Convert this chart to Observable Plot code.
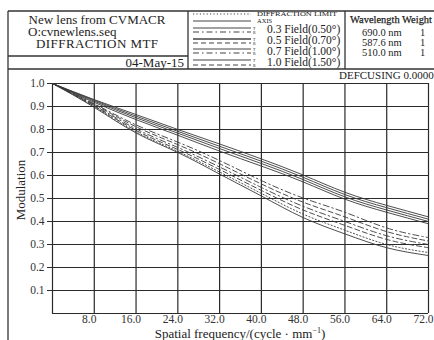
<!DOCTYPE html>
<html>
<head>
<meta charset="utf-8">
<script src="https://cdn.jsdelivr.net/npm/d3@7"></script>
<script src="https://cdn.jsdelivr.net/npm/@observablehq/plot@0.6"></script>
<style>
  html, body { margin: 0; padding: 0; background: #fff; }
  #chart { width: 434px; height: 340px; overflow: hidden; }
  #chart svg, #chart svg text, #chart svg tspan { font-family: "Liberation Serif", "Times New Roman", "DejaVu Serif", serif !important; }
</style>
</head>
<body>
<div id="chart"></div>
<script>
// ---- data ----
const freq = [0, 8, 16, 24, 32, 40, 48, 56, 64, 72];
const xTicks = [8, 16, 24, 32, 40, 48, 56, 64, 72];
const yTicks = [0.1, 0.2, 0.3, 0.4, 0.5, 0.6, 0.7, 0.8, 0.9, 1.0];

const seriesNames = ["AXIS", "0.3 T", "0.5 T", "0.7 T", "0.3 R", "0.5 R", "0.7 R", "1.0 R", "DIFFRACTION LIMIT", "1.0 T"];
const axisMTF   = [1.0, 0.930, 0.865, 0.800, 0.737, 0.672, 0.602, 0.527, 0.470, 0.420];
const f03T      = [1.0, 0.927, 0.858, 0.792, 0.727, 0.662, 0.592, 0.517, 0.460, 0.410];
const f05T      = [1.0, 0.923, 0.851, 0.784, 0.717, 0.652, 0.582, 0.507, 0.450, 0.400];
const f07T      = [1.0, 0.918, 0.843, 0.775, 0.706, 0.641, 0.572, 0.497, 0.440, 0.390];
const f03R      = [1.0, 0.912, 0.820, 0.745, 0.665, 0.578, 0.502, 0.440, 0.372, 0.330];
const f05R      = [1.0, 0.909, 0.812, 0.734, 0.651, 0.563, 0.484, 0.420, 0.356, 0.315];
const f07R      = [1.0, 0.905, 0.803, 0.722, 0.637, 0.548, 0.466, 0.400, 0.338, 0.300];
const f10R      = [1.0, 0.902, 0.796, 0.713, 0.626, 0.535, 0.450, 0.383, 0.322, 0.286];
const diffLimit = [1.0, 0.899, 0.790, 0.705, 0.615, 0.522, 0.432, 0.362, 0.300, 0.265];
const f10T      = [1.0, 0.896, 0.785, 0.700, 0.606, 0.511, 0.417, 0.346, 0.286, 0.252];
const seriesValues = [axisMTF, f03T, f05T, f07T, f03R, f05R, f07R, f10R, diffLimit, f10T];

const headerLines = ["New lens from CVMACR", "O:cvnewlens.seq", "DIFFRACTION MTF"];
const dateLabel = "04-May-15";
const fieldLabels = ["0.3 Field(0.50°)", "0.5 Field(0.70°)", "0.7 Field(1.00°)", "1.0 Field(1.50°)"];
const wavelengths = ["690.0 nm", "587.6 nm", "510.0 nm"];
const weights = ["1", "1", "1"];
const defocusLabel = "DEFCUSING 0.00000";

// ---- styles (by series) ----
const dashFor = {
  "AXIS": null, "0.3 T": null, "0.5 T": null, "0.7 T": null, "1.0 T": null,
  "0.3 R": "6,3,1.5,3", "0.5 R": "5,3", "0.7 R": "6,3,1.5,3", "1.0 R": "5,3",
  "DIFFRACTION LIMIT": "1.2,2.2"
};

// tidy table
const rows = [];
seriesNames.forEach((name, i) => {
  freq.forEach((f, j) => rows.push({series: name, freq: f, mtf: seriesValues[i][j]}));
});

const ink = "#2a2a2a";

const lineMarks = seriesNames.map(name =>
  Plot.line(rows.filter(d => d.series === name), {
    x: "freq", y: "mtf", curve: "natural",
    stroke: "#3a3a3a", strokeWidth: 0.9,
    strokeDasharray: dashFor[name] || undefined
  })
);

const chart = Plot.plot({
  width: 434,
  height: 340,
  marginLeft: 52,
  marginRight: 6,
  marginTop: 83,
  marginBottom: 27,
  style: {fontSize: "11.5px", background: "#fff", color: ink},
  x: {domain: [0, 72]},
  y: {domain: [0, 1]},
  marks: [
    Plot.gridX(xTicks, {stroke: ink, strokeOpacity: 1, strokeWidth: 1.2}),
    Plot.gridY(yTicks, {stroke: ink, strokeOpacity: 1, strokeWidth: 1.2}),
    Plot.ruleX([0], {stroke: ink, strokeWidth: 1.2}),
    Plot.ruleY([0], {stroke: ink, strokeWidth: 1.2}),
    Plot.axisX({ticks: xTicks, tickFormat: d => d.toFixed(1), tickSize: 0, tickPadding: 1, dx: -5, label: null, fill: "#333"}),
    Plot.axisY({ticks: yTicks, tickFormat: d => d.toFixed(1), tickSize: 5, tickPadding: 3, label: null, stroke: ink, fill: "#333"}),
    ...lineMarks
  ]
});

document.getElementById("chart").appendChild(chart);

// ---- header, frame and titles ----
const svg = d3.select(chart);
const g = svg.append("g").attr("fill", "#222").attr("text-anchor", "start");
const frame = (x1, y1, x2, y2, w = 1.3) =>
  g.append("line").attr("x1", x1).attr("y1", y1).attr("x2", x2).attr("y2", y2)
    .attr("stroke", "#333").attr("stroke-width", w);

// outer frame
frame(8, 11, 434, 11);
frame(8, 69, 434, 69);
frame(8, 11, 8, 340);
frame(188, 11, 188, 69);
frame(345, 11, 345, 69);
frame(8, 56, 188, 56);

// left header box
g.append("text").attr("x", 97).attr("y", 24).attr("text-anchor", "middle").attr("font-size", 13).text(headerLines[0]);
g.append("text").attr("x", 28).attr("y", 36).attr("font-size", 13).text(headerLines[1]);
g.append("text").attr("x", 97).attr("y", 48).attr("text-anchor", "middle").attr("font-size", 13).attr("textLength", 122).attr("lengthAdjust", "spacing").text(headerLines[2]);
g.append("text").attr("x", 184).attr("y", 67).attr("text-anchor", "end").attr("font-size", 13).text(dateLabel);

// legend column
const legendLine = (y, dash, w = 1) => {
  const l = g.append("line").attr("x1", 193).attr("x2", 251).attr("y1", y).attr("y2", y)
    .attr("stroke", "#444").attr("stroke-width", w);
  if (dash) l.attr("stroke-dasharray", dash);
};
legendLine(14, dashFor["DIFFRACTION LIMIT"], 1.1);
legendLine(21, null);
const tRows = [28, 39, 49, 60];
const rRows = [32, 43, 53, 65];
const tNames = ["0.3 T", "0.5 T", "0.7 T", "1.0 T"];
const rNames = ["0.3 R", "0.5 R", "0.7 R", "1.0 R"];
tRows.forEach((y, i) => legendLine(y, dashFor[tNames[i]], i === 1 ? 1.6 : 1));
rRows.forEach((y, i) => legendLine(y, dashFor[rNames[i]], 1.2));
tRows.forEach((y, i) => {
  g.append("text").attr("x", 253).attr("y", y + 1.5).attr("font-size", 4).text("T");
  g.append("text").attr("x", 253).attr("y", rRows[i] + 1.5).attr("font-size", 4).text("R");
});
g.append("text").attr("x", 257).attr("y", 16).attr("font-size", 7).attr("textLength", 80).attr("lengthAdjust", "spacingAndGlyphs").text("DIFFRACTION LIMIT");
g.append("text").attr("x", 257).attr("y", 22.5).attr("font-size", 6.5).text("AXIS");
[29, 40, 51, 62].forEach((y, i) =>
  g.append("text").attr("x", 267).attr("y", y + 4).attr("font-size", 11.5).text(fieldLabels[i])
);

// wavelength column
g.append("text").attr("x", 350).attr("y", 23).attr("font-size", 11).attr("fill", "#222")
  .attr("stroke", "#222").attr("stroke-width", 0.25).attr("textLength", 82).attr("lengthAdjust", "spacingAndGlyphs").text("Wavelength Weight");
[33, 43, 53].forEach((y, i) => {
  g.append("text").attr("x", 362).attr("y", y + 3).attr("font-size", 10.5).text(wavelengths[i]);
  g.append("text").attr("x", 420).attr("y", y + 3).attr("font-size", 10.5).text(weights[i]);
});

// defocus label
g.append("rect").attr("x", 338).attr("y", 70).attr("width", 96).attr("height", 11).attr("fill", "#fff");
g.append("text").attr("x", 339).attr("y", 79).attr("font-size", 11).text(defocusLabel);

// axis titles
const xt = g.append("text").attr("x", 240).attr("y", 338).attr("text-anchor", "middle").attr("font-size", 13);
xt.append("tspan").text("Spatial frequency/(cycle · mm");
xt.append("tspan").attr("dy", -5).attr("font-size", 8).text("−1");
xt.append("tspan").attr("dy", 5).text(")");
g.append("text").attr("transform", "translate(25,190) rotate(-90)").attr("text-anchor", "middle").attr("font-size", 13).text("Modulation");
</script>
</body>
</html>
